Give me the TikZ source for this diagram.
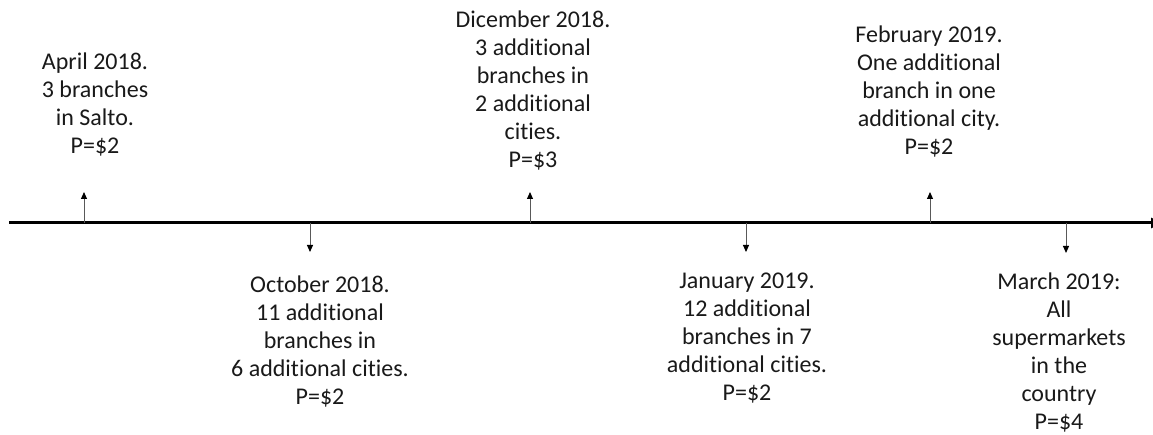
\documentclass[tikz,border=0pt]{standalone}
\usepackage{fontspec}
\setmainfont{Carlito}[Ligatures=NoCommon]
\usetikzlibrary{calc,arrows.meta}

\begin{document}
\begin{tikzpicture}[x=1pt,y=-1pt,
  event/.style={align=center,inner sep=0pt,anchor=north,text=black!90,font=\fontsize{24}{28}\selectfont},
  tick/.style={line width=1pt,draw=black!65,-{Triangle[width=6pt,length=7pt,color=black]}}]
  \useasboundingbox (0,0) rectangle (1153,435);
  \coordinate (o) at (9,223);
  \coordinate (e) at ($(o) + (1153, 0)$);
  \draw[line width=3pt,-{Triangle[width=10pt,length=11pt]}] (o) -- (e);

  \coordinate (t1) at ($(o) + (75, 0)$);
  \coordinate (h1) at ($(t1) + (0, -31)$);
  \node[event] at ($(t1) + (11, -170)$) (l1) {April 2018.\\3 branches\\in Salto.\\P=\$2};
  \draw[tick] (t1) -- (h1);

  \coordinate (t2) at ($(o) + (301, 0)$);
  \coordinate (h2) at ($(t2) + (0, 29)$);
  \node[event] at ($(t2) + (10, 53)$) (l2) {October 2018.\\11 additional\\branches in\\6 additional cities.\\P=\$2};
  \draw[tick] (t2) -- (h2);

  \coordinate (t3) at ($(o) + (521, 0)$);
  \coordinate (h3) at ($(t3) + (0, -31)$);
  \node[event] at ($(t3) + (3, -212)$) (l3) {Dicember 2018.\\3 additional\\branches in\\2 additional\\cities.\\P=\$3};
  \draw[tick] (t3) -- (h3);

  \coordinate (t4) at ($(o) + (737, 0)$);
  \coordinate (h4) at ($(t4) + (0, 29)$);
  \node[event] at ($(t4) + (1, 50)$) (l4) {January 2019.\\12 additional\\branches in 7\\additional cities.\\P=\$2};
  \draw[tick] (t4) -- (h4);

  \coordinate (t5) at ($(o) + (921, 0)$);
  \coordinate (h5) at ($(t5) + (0, -31)$);
  \node[event] at ($(t5) + (-1, -197)$) (l5) {February 2019.\\One additional\\branch in one\\additional city.\\P=\$2};
  \draw[tick] (t5) -- (h5);

  \coordinate (t6) at ($(o) + (1057, 0)$);
  \coordinate (h6) at ($(t6) + (0, 30)$);
  \node[event] at ($(t6) + (-7, 50)$) (l6) {March 2019:\\All\\supermarkets\\in the\\country\\P=\$4};
  \draw[tick] (t6) -- (h6);
\end{tikzpicture}
\end{document}
